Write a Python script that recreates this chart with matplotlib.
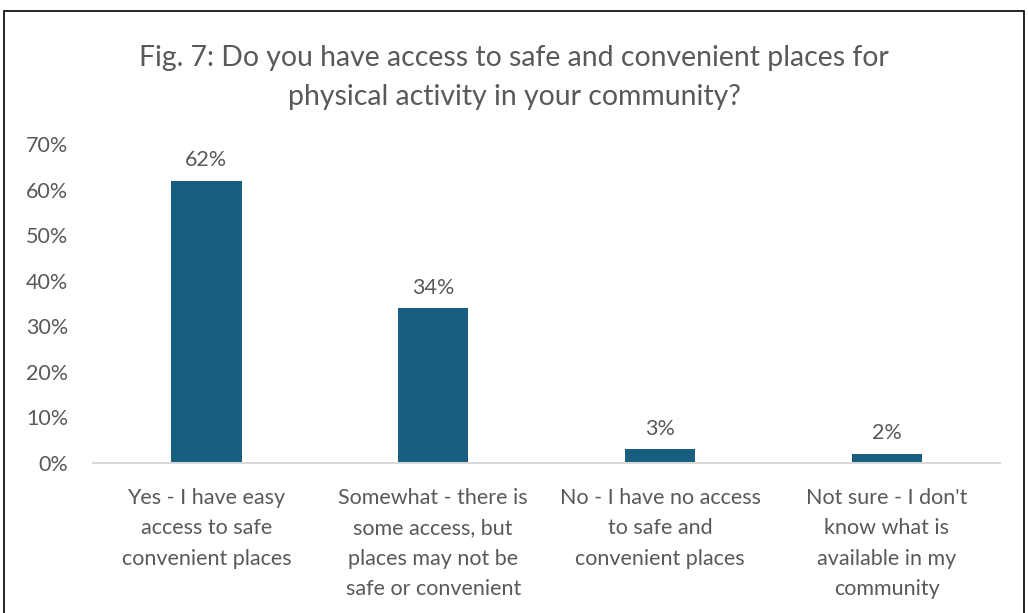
import matplotlib.pyplot as plt
from matplotlib.patches import Rectangle
from matplotlib.ticker import FuncFormatter

plt.rcParams['font.family'] = ['Lato', 'DejaVu Sans']

# survey answers and share of respondents
categories = [
    "Yes - I have easy\naccess to safe\nconvenient places",
    "Somewhat - there is\nsome access, but\nplaces may not be\nsafe or convenient",
    "No - I have no access\nto safe and\nconvenient places",
    "Not sure - I don't\nknow what is\navailable in my\ncommunity",
]
shares = [0.62, 0.34, 0.03, 0.02]
share_labels = ["62%", "34%", "3%", "2%"]

bar_color = "#175E80"
text_color = "#595959"

fig = plt.figure(figsize=(10.28, 6.13), dpi=100)
ax = fig.add_axes([0.0905, 0.2447, 0.8825, 0.5203])

x = range(len(categories))
bars = ax.bar(x, shares, width=0.31, color=bar_color)

for b, lab in zip(bars, share_labels):
    ax.annotate(lab, (b.get_x() + b.get_width() / 2, b.get_height()),
                xytext=(0, 7.5), textcoords="offset points",
                ha="center", va="bottom", fontsize=15.5, color=text_color)

ax.set_xlim(-0.5, 3.5)
ax.set_ylim(0, 0.7)
ax.set_yticks([i / 10 for i in range(8)])
ax.yaxis.set_major_formatter(FuncFormatter(lambda v, p: f"{v:.0%}"))
ax.set_xticks(list(x))
ax.set_xticklabels(categories, linespacing=1.65)

for s in ["top", "right", "left"]:
    ax.spines[s].set_visible(False)
ax.spines["bottom"].set_color("#D9D9D9")
ax.spines["bottom"].set_linewidth(1.5)
ax.tick_params(axis="both", length=0, labelsize=15.5, colors=text_color)
ax.tick_params(axis="y", pad=18)
ax.tick_params(axis="x", pad=18)

fig.text(0.5, 0.873, "Fig. 7: Do you have access to safe and convenient places for\nphysical activity in your community?",
         ha="center", va="center", fontsize=20.4, color=text_color, linespacing=1.62)

# chart frame, open at the bottom
fig.patches.append(Rectangle((0.004, -0.05), 0.992, 1.032, transform=fig.transFigure,
                             fill=False, edgecolor="black", linewidth=1.2))

fig.savefig("out.png", dpi=100)
